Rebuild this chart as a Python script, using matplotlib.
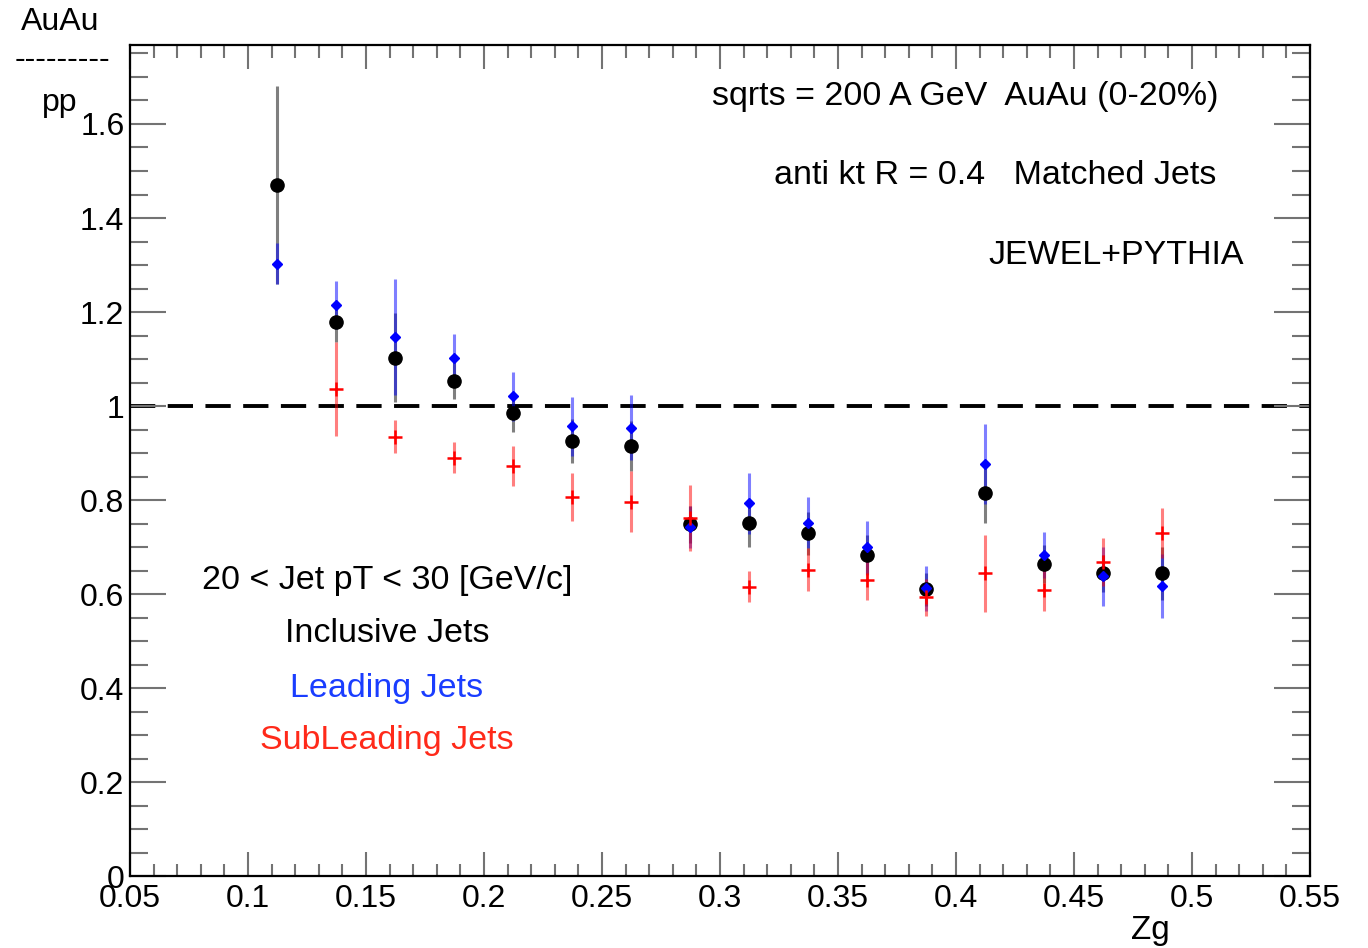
import numpy as np
import matplotlib.pyplot as plt
from matplotlib.ticker import MultipleLocator, FixedLocator

plt.rcParams['font.family'] = ['Liberation Sans', 'DejaVu Sans']

# Zg bin centres
zg = [0.1125, 0.1375, 0.1625, 0.1875, 0.2125, 0.2375, 0.2625, 0.2875,
      0.3125, 0.3375, 0.3625, 0.3875, 0.4125, 0.4375, 0.4625, 0.4875]

# AuAu / pp ratios with errors
incl = [1.470, 1.178, 1.103, 1.054, 0.986, 0.926, 0.915, 0.748,
        0.752, 0.729, 0.683, 0.610, 0.816, 0.664, 0.644, 0.644]
incl_err = [0.210, 0.041, 0.095, 0.040, 0.041, 0.047, 0.053, 0.040,
            0.051, 0.046, 0.043, 0.035, 0.064, 0.040, 0.040, 0.056]

lead = [1.303, 1.215, 1.147, 1.103, 1.021, 0.957, 0.954, 0.743,
        0.793, 0.752, 0.699, 0.612, 0.876, 0.683, 0.638, 0.618]
lead_err = [0.044, 0.051, 0.124, 0.050, 0.052, 0.063, 0.069, 0.045,
            0.065, 0.055, 0.057, 0.048, 0.085, 0.048, 0.063, 0.068]

zg_sub = zg[1:]
sub = [1.037, 0.935, 0.890, 0.872, 0.807, 0.796, 0.762,
       0.615, 0.652, 0.630, 0.593, 0.644, 0.609, 0.669, 0.729]
sub_err = [0.100, 0.036, 0.033, 0.043, 0.051, 0.065, 0.071,
           0.033, 0.045, 0.043, 0.040, 0.082, 0.045, 0.051, 0.053]

fig = plt.figure(figsize=(13.68, 9.48), dpi=100)
ax = fig.add_axes([0.095, 0.0759, 0.8626, 0.8766])

# error bars first, markers on top
ax.errorbar(zg, incl, yerr=incl_err, fmt='none', ecolor='black', alpha=0.5,
            elinewidth=2.2, capsize=0, zorder=2)
ax.errorbar(zg, lead, yerr=lead_err, fmt='none', ecolor='blue', alpha=0.5,
            elinewidth=2.2, capsize=0, zorder=2)
ax.errorbar(zg_sub, sub, yerr=sub_err, fmt='none', ecolor='red', alpha=0.5,
            elinewidth=2.2, capsize=0, zorder=2)
ax.plot(zg, incl, 'o', color='black', markersize=9.5, zorder=3)
ax.plot(zg, lead, 'D', color='blue', markersize=5, zorder=4)
ax.plot(zg_sub, sub, '+', color='red', markersize=10, markeredgewidth=1.8, zorder=5)

ax.axhline(1.0, color='black', lw=2.8, dashes=(6.5, 3.2), zorder=1)

ax.set_xlim(0.05, 0.55)
ax.set_ylim(0, 1.768)

ax.xaxis.set_major_locator(MultipleLocator(0.05))
ax.xaxis.set_minor_locator(MultipleLocator(0.01))
ax.yaxis.set_major_locator(FixedLocator(np.arange(0, 1.61, 0.2)))
ax.yaxis.set_minor_locator(MultipleLocator(0.05))
ax.xaxis.set_major_formatter(plt.FuncFormatter(lambda v, p: f'{v:.2f}'.rstrip('0').rstrip('.')))
ax.yaxis.set_major_formatter(plt.FuncFormatter(lambda v, p: f'{v:.1f}'.rstrip('0').rstrip('.')))

ax.tick_params(which='both', direction='in', top=True, right=True, color='0.45', width=1.5)
ax.tick_params(which='major', axis='x', length=17, labelsize=23, pad=6)
ax.tick_params(which='minor', axis='x', length=9)
ax.tick_params(which='major', axis='y', length=26, labelsize=23, pad=4)
ax.tick_params(which='minor', axis='y', length=13)
for s in ax.spines.values():
    s.set_linewidth(1.6)

# axis titles
fig.text(1150 / 1368, 1 - 930 / 948, 'Zg', fontsize=24, ha='center', va='center')
fig.text(60 / 1368, 1 - 22 / 948, 'AuAu', fontsize=23, ha='center', va='center')
fig.text(62 / 1368, 1 - 60 / 948, '---------', fontsize=23, ha='center', va='center')
fig.text(60 / 1368, 1 - 103 / 948, 'pp', fontsize=23, ha='center', va='center')

# info labels
fs = 24.5
fig.text(965 / 1368, 1 - 97 / 948, 'sqrts = 200 A GeV  AuAu (0-20%)', fontsize=fs,
         ha='center', va='center')
fig.text(995 / 1368, 1 - 176 / 948, 'anti kt R = 0.4   Matched Jets', fontsize=fs,
         ha='center', va='center')
fig.text(1116 / 1368, 1 - 256 / 948, 'JEWEL+PYTHIA', fontsize=fs,
         ha='center', va='center')

fig.text(387 / 1368, 1 - 580 / 948, '20 < Jet pT < 30 [GeV/c]', fontsize=fs,
         ha='center', va='center')
fig.text(387 / 1368, 1 - 634 / 948, 'Inclusive Jets', fontsize=fs, color='black',
         ha='center', va='center')
fig.text(387 / 1368, 1 - 689 / 948, 'Leading Jets', fontsize=fs, color='#1a3dff',
         ha='center', va='center')
fig.text(387 / 1368, 1 - 741 / 948, 'SubLeading Jets', fontsize=fs, color='#ff2a1a',
         ha='center', va='center')

fig.savefig('out.png', dpi=100)
